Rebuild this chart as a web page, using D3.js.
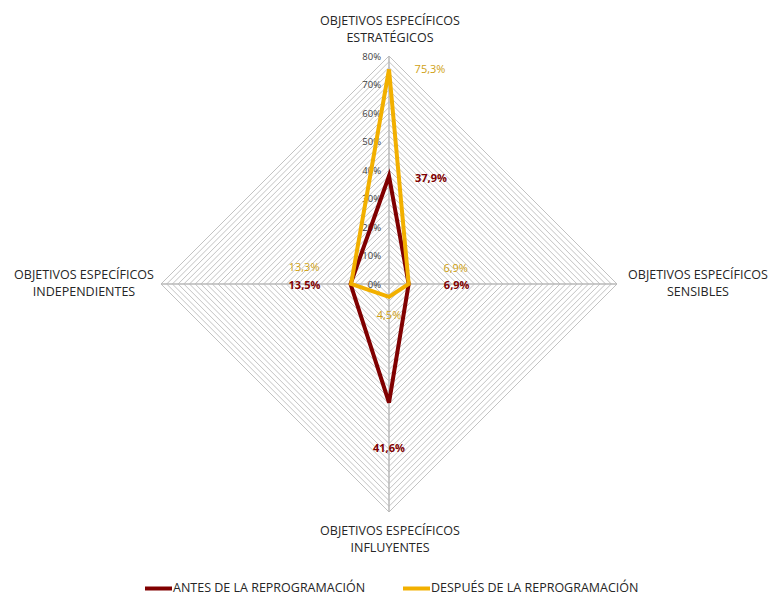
<!DOCTYPE html>
<html>
<head>
<meta charset="utf-8">
<script src="https://cdn.jsdelivr.net/npm/d3@7"></script>
<style>
  body { margin: 0; background: #fff; }
  text { font-family: "Open Sans", Lato, sans-serif; }
</style>
</head>
<body>
<div id="chart"></div>
<script>
// data
var axesNames = [
    ["OBJETIVOS ESPECÍFICOS", "ESTRATÉGICOS"],
    ["OBJETIVOS ESPECÍFICOS", "SENSIBLES"],
    ["OBJETIVOS ESPECÍFICOS", "INFLUYENTES"],
    ["OBJETIVOS ESPECÍFICOS", "INDEPENDIENTES"]
];
var antes = [37.9, 6.9, 41.6, 13.5];
var despues = [75.3, 6.9, 4.5, 13.3];
var seriesNames = ["ANTES DE LA REPROGRAMACIÓN", "DESPUÉS DE LA REPROGRAMACIÓN"];
var tickValues = [0, 10, 20, 30, 40, 50, 60, 70, 80];

var width = 771, height = 596;
var cx = 389, cy = 284, R = 228;
var red = "#800000", gold = "#f2b000", goldText = "#cf9f12";

var svg = d3.select("#chart")
    .append("svg")
    .attr("width", width)
    .attr("height", height);

var r = d3.scaleLinear().domain([0, 80]).range([0, R]);
// top, right, bottom, left
var angle = function (i) { return -Math.PI / 2 + i * Math.PI / 2; };
var pt = function (v, i) {
    return [cx + r(v) * Math.cos(angle(i)), cy + r(v) * Math.sin(angle(i))];
};

// grid every 2%
var grid = svg.append("g");
d3.range(2, 81, 2).forEach(function (v) {
    grid.append("polygon")
        .attr("points", [0, 1, 2, 3].map(function (i) { return pt(v, i).join(","); }).join(" "))
        .attr("fill", "none")
        .attr("stroke", "#c2c2c2")
        .attr("stroke-width", 1);
});
// spokes
[0, 1, 2, 3].forEach(function (i) {
    var p = pt(80, i);
    grid.append("line")
        .attr("x1", cx).attr("y1", cy)
        .attr("x2", p[0]).attr("y2", p[1])
        .attr("stroke", "#b8b8b8")
        .attr("stroke-width", 1.5);
});

// tick labels
svg.append("g").selectAll("text")
    .data(tickValues)
    .enter()
    .append("text")
    .attr("x", cx - 8)
    .attr("y", function (d) { return cy - r(d) + 3.5; })
    .attr("text-anchor", "end")
    .attr("font-size", 9.5)
    .attr("fill", "#404040")
    .text(function (d) { return d + "%"; });

// axis labels
var labelPos = [[390, 25], [698, 279], [390, 535], [84, 279]];
axesNames.forEach(function (lines, i) {
    var t = svg.append("text")
        .attr("text-anchor", "middle")
        .attr("font-size", 12.5)
        .attr("fill", "#262626");
    lines.forEach(function (s, k) {
        t.append("tspan")
            .attr("x", labelPos[i][0])
            .attr("y", labelPos[i][1] + k * 17)
            .text(s);
    });
});

// series
var line = d3.line().curve(d3.curveLinearClosed);
var series = [
    { values: antes, color: red },
    { values: despues, color: gold }
];
series.forEach(function (s) {
    svg.append("path")
        .attr("d", line(s.values.map(pt)))
        .attr("fill", "none")
        .attr("stroke", s.color)
        .attr("stroke-width", 4)
        .attr("stroke-linejoin", "miter");
});

// data labels
var fmt = function (v) { return v.toFixed(1).replace(".", ",") + "%"; };
var antesOff = [[42, 6], [48, 5], [0, 49], [-46, 5]];
var despuesOff = [[41, 4], [47, -12], [0, 22], [-47, -13]];
antes.forEach(function (v, i) {
    var p = pt(v, i);
    svg.append("text")
        .attr("x", p[0] + antesOff[i][0])
        .attr("y", p[1] + antesOff[i][1])
        .attr("text-anchor", "middle")
        .attr("font-size", 11)
        .attr("font-weight", "bold")
        .attr("fill", red)
        .text(fmt(v));
});
despues.forEach(function (v, i) {
    var p = pt(v, i);
    svg.append("text")
        .attr("x", p[0] + despuesOff[i][0])
        .attr("y", p[1] + despuesOff[i][1])
        .attr("text-anchor", "middle")
        .attr("font-size", 11)
        .attr("fill", goldText)
        .text(fmt(v));
});

// legend
var legX = [145, 403];
[red, gold].forEach(function (c, i) {
    svg.append("line")
        .attr("x1", legX[i]).attr("x2", legX[i] + 27)
        .attr("y1", 588.5).attr("y2", 588.5)
        .attr("stroke", c)
        .attr("stroke-width", 4);
    svg.append("text")
        .attr("x", legX[i] + 28)
        .attr("y", 592)
        .attr("font-size", 12.5)
        .attr("fill", "#262626")
        .text(seriesNames[i]);
});
</script>
</body>
</html>
